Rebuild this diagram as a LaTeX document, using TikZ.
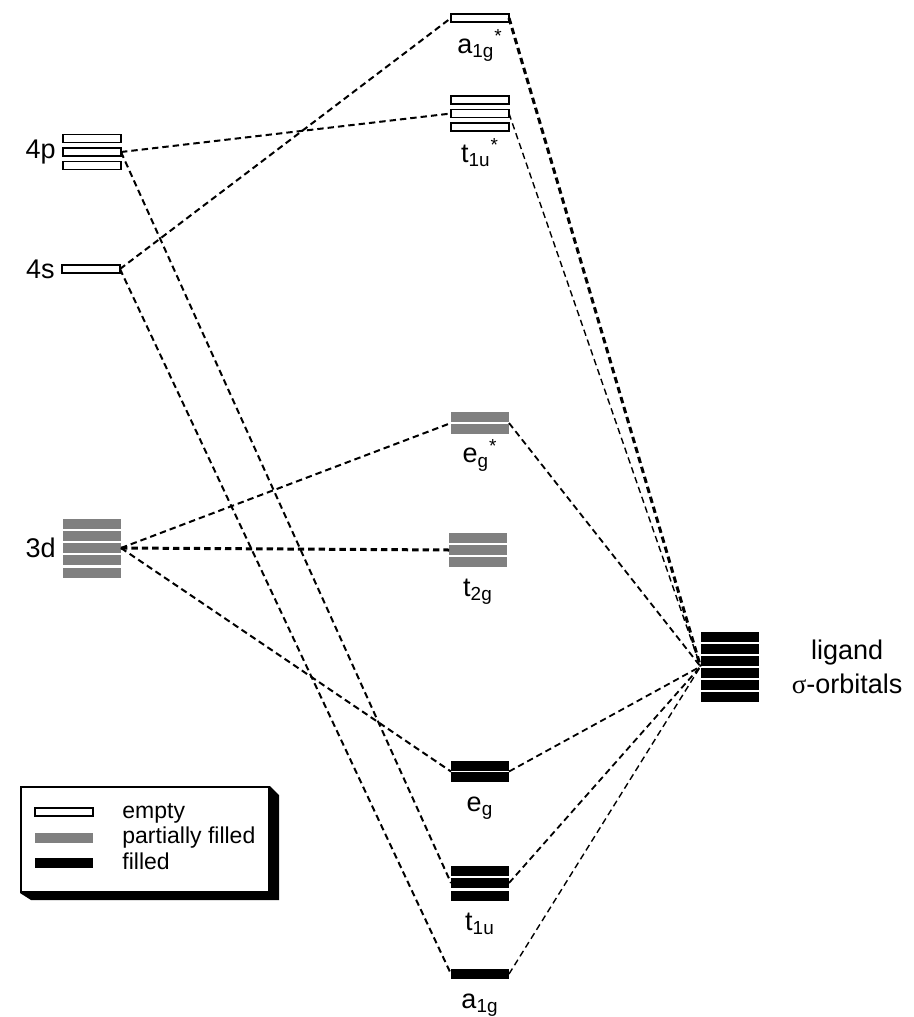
\documentclass[tikz,border=0pt]{standalone}
\usepackage{fontspec}
\setmainfont{Liberation Sans}
\newfontfamily\greekfont{Liberation Serif}
\usetikzlibrary{positioning,calc}

\definecolor{partgray}{RGB}{128,128,128}

\tikzset{
  emptybar/.style={draw=black, fill=white, line width=0.8pt},
  partbar/.style={fill=partgray},
  fullbar/.style={fill=black},
  orbnode/.style={inner sep=0pt, outer sep=0pt, minimum width=29pt},
  mixline/.style={dash pattern=on 3.2pt off 2pt, line width=1pt},
  thickmix/.style={mixline, line width=1.5pt},
  thinmix/.style={mixline, line width=0.7pt},
  lvllabel/.style={inner sep=0pt, font=\fontsize{13.5pt}{16pt}\selectfont},
  midlabel/.style={lvllabel, text height=9.5pt, text depth=3pt},
  keytext/.style={inner sep=0pt, text height=8.5pt, text depth=2.5pt,
    font=\fontsize{11.5pt}{14pt}\selectfont},
  legendbox/.style={draw, line width=1pt, fill=white, inner sep=0pt,
    minimum width=124pt, minimum height=52.5pt}
}

% a set of degenerate levels: name, centre, bars, bar style, pitch, bar height
\newcommand\orbset[6]{%
  \node[orbnode, minimum height={#3*#5*0.5pt}] (#1) at #2 {};
  \foreach \k in {1,...,#3}
    \path[#4] ($(#1.center)+(-29,{(\k-(#3+1)/2)*#5-#6/2})$) rectangle ++(58,#6);
}

\begin{document}
\begin{tikzpicture}[x=0.5pt, y=-0.5pt]
    \useasboundingbox (0,0) rectangle (914,1017);

    % metal orbitals (left column)
    \orbset{m4p}{(92,152)}{3}{emptybar}{13.5}{8}
    \orbset{m4s}{(91,269)}{1}{emptybar}{13.5}{8}
    \orbset{m3d}{(92,548)}{5}{partbar}{12.25}{10}
    \node[lvllabel, left=3.5pt of m4p] (l4p) {4p};
    \node[lvllabel, left=3.5pt of m4s] (l4s) {4s};
    \node[lvllabel, left=3.5pt of m3d] (l3d) {3d};

    % molecular orbitals (middle column)
    \orbset{a1gs}{(480,18)}{1}{emptybar}{13.5}{8}
    \orbset{t1us}{(480,113.5)}{3}{emptybar}{13.5}{8}
    \orbset{egs}{(480,423)}{2}{partbar}{11.5}{10}
    \orbset{t2g}{(478,550)}{3}{partbar}{12}{10}
    \orbset{eg}{(480,771.5)}{2}{fullbar}{11.5}{10}
    \orbset{t1u}{(480,883)}{3}{fullbar}{12.5}{10}
    \orbset{a1g}{(480,974)}{1}{fullbar}{12}{10}
    \node[midlabel, below=4.5pt of a1gs] (la1gs) {a\textsubscript{1g}\textsuperscript{*}};
    \node[midlabel, below=4.5pt of t1us] (lt1us) {t\textsubscript{1u}\textsuperscript{*}};
    \node[midlabel, below=4.5pt of egs] (legs) {e\textsubscript{g}\textsuperscript{*}};
    \node[midlabel, below=4.5pt of t2g] (lt2g) {t\textsubscript{2g}};
    \node[midlabel, below=4.5pt of eg] (leg) {e\textsubscript{g}};
    \node[midlabel, below=4.5pt of t1u] (lt1u) {t\textsubscript{1u}};
    \node[midlabel, below=4.5pt of a1g] (la1g) {a\textsubscript{1g}};

    % ligand orbitals (right column)
    \orbset{lig}{(729.5,666.5)}{6}{fullbar}{12}{10}
    \node[lvllabel, right=16.5pt of lig, align=center,
      font=\fontsize{13.5pt}{17pt}\selectfont] (llig) {ligand\\{\greekfont σ}-orbitals};

    % metal -- MO correlation lines
    \draw[mixline] (m4p.east) -- (t1us.west);
    \draw[mixline] (m4p.east) -- (t1u.west);
    \draw[mixline] (m4s.east) -- (a1gs.west);
    \draw[mixline] (m4s.east) -- (a1g.west);
    \draw[mixline] (m3d.east) -- (egs.west);
    \draw[thickmix] (m3d.east) -- (t2g.west);
    \draw[mixline] (m3d.east) -- (eg.west);

    % ligand -- MO correlation lines
    \draw[thickmix] (a1gs.east) -- (lig.west);
    \draw[thinmix] (t1us.east) -- (lig.west);
    \draw[mixline, line width=0.9pt] (egs.east) -- (lig.west);
    \draw[mixline, line width=0.9pt] (eg.east) -- (lig.west);
    \draw[mixline, line width=0.9pt] (t1u.east) -- (lig.west);
    \draw[thinmix] (a1g.east) -- (lig.west);

    % legend with drop shadow
    \node[legendbox] (legend) at (145,839.5) {};
    \fill (legend.north east) -- ++(9,9) -- ++(0,105) -- ++(-248,0)
        -- (legend.south west) -- (legend.south east) -- cycle;
    \orbset{keyempty}{(64,812)}{1}{emptybar}{13.5}{8}
    \orbset{keypart}{(64,837.5)}{1}{partbar}{12}{10}
    \orbset{keyfull}{(64,863)}{1}{fullbar}{12}{10}
    \node[keytext, right=14.5pt of keyempty] (tempty) {empty};
    \node[keytext, right=14.5pt of keypart] (tpart) {partially filled};
    \node[keytext, right=14.5pt of keyfull] (tfull) {filled};
\end{tikzpicture}
\end{document}
